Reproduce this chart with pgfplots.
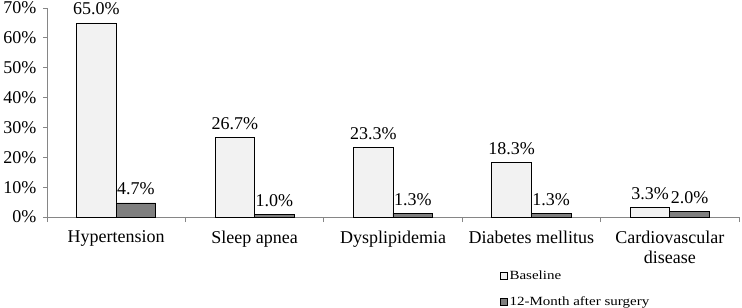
\documentclass[border=0pt]{standalone}
\usepackage{fontspec}
\setmainfont{Liberation Serif}
\newfontfamily\legfont[FakeStretch=1.2]{Liberation Serif}
\usepackage{pgfplots}
\pgfplotsset{compat=1.18}
\definecolor{basefill}{HTML}{F2F2F2}
\definecolor{postfill}{HTML}{7F7F7F}
\definecolor{axisgray}{HTML}{868686}
\pgfplotsset{/pgfplots/ybar legend/.style={/pgfplots/legend image code/.code={\draw[##1,draw=black,line width=0.6bp] (0bp,-3.5bp) rectangle (7bp,3.5bp);}}}
\begin{document}
\begin{tikzpicture}
\begin{axis}[
  scale only axis, width=692bp, height=209bp,
  ymin=0, ymax=70, xmin=-0.5, xmax=4.5,
  /pgf/number format/assume math mode=true,
  axis x line*=bottom, axis y line*=left,
  axis line style={axisgray, line width=0.8bp},
  ytick={0,10,...,70},
  yticklabels={0\%,10\%,20\%,30\%,40\%,50\%,60\%,70\%},
  xtick={0,1,2,3,4},
  xticklabels={Hypertension, Sleep apnea, Dysplipidemia, Diabetes mellitus, {Cardiovascular\\disease}},
  xticklabel style={align=center, font=\fontsize{18bp}{20bp}\selectfont, yshift=-6bp},
  yticklabel style={font=\fontsize{18bp}{20bp}\selectfont, xshift=-3bp},
  major x tick style={draw=none},
  minor xtick={-0.5,0.5,...,4.5},
  tick align=outside,
  tick style={axisgray, line width=0.8bp},
  major tick length=4bp, minor tick length=5bp,
  ybar=0pt, bar width=39.5bp,
  nodes near coords={\pgfmathprintnumber[fixed,fixed zerofill,precision=1,assume math mode=true]{\pgfplotspointmeta}\%},
  every node near coord/.append style={font=\fontsize{18bp}{20bp}\selectfont, black, yshift=4bp},
  legend style={at={(0.655,-0.25)}, anchor=north west, draw=none, fill=none,
    font=\legfont\fontsize{12.5bp}{14bp}\selectfont, legend cell align=left,
    row sep=13bp, inner sep=0pt,
    nodes={inner sep=1.5bp}},
  clip=false,
]
\addplot[draw=black, fill=basefill, line width=0.8bp] coordinates {(0,65.0) (1,26.7) (2,23.3) (3,18.3) (4,3.3)};
\addplot[draw=black, fill=postfill, line width=0.8bp] coordinates {(0,4.7) (1,1.0) (2,1.3) (3,1.3) (4,2.0)};
\legend{Baseline, 12-Month after surgery}
\end{axis}
\pgfresetboundingbox
\path (-47bp,-91bp) rectangle (695bp,217bp);
\end{tikzpicture}
\end{document}
